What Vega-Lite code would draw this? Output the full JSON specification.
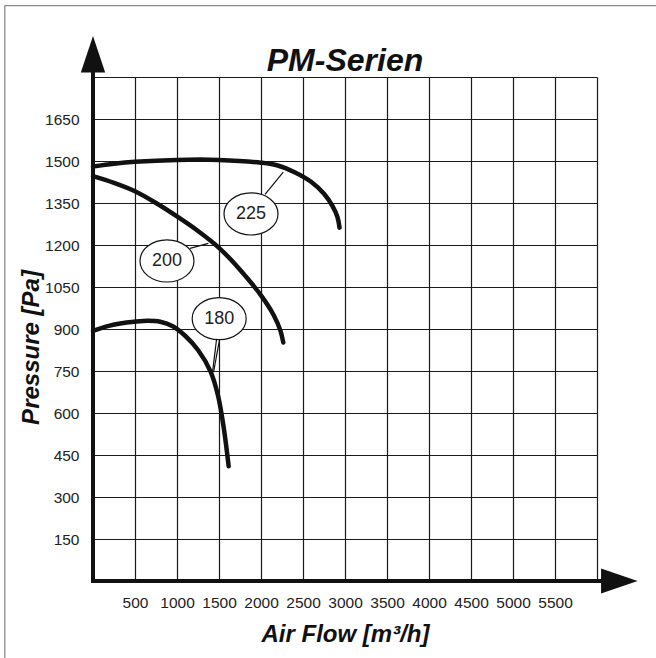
{
  "$schema": "https://vega.github.io/schema/vega-lite/v6.json",
  "width": 504,
  "height": 504,
  "autosize": {"type": "none"},
  "padding": {"left": 93, "top": 77, "right": 59, "bottom": 77},
  "background": "white",
  "config": {"view": {"stroke": null}, "font": "Liberation Sans"},
  "datasets": {
    "curves": [
      {"fan": "225", "x": 0, "y": 1480},
      {"fan": "225", "x": 250, "y": 1490},
      {"fan": "225", "x": 500, "y": 1497},
      {"fan": "225", "x": 1000, "y": 1504},
      {"fan": "225", "x": 1500, "y": 1504},
      {"fan": "225", "x": 2000, "y": 1494},
      {"fan": "225", "x": 2200, "y": 1484},
      {"fan": "225", "x": 2400, "y": 1460},
      {"fan": "225", "x": 2600, "y": 1425},
      {"fan": "225", "x": 2750, "y": 1383},
      {"fan": "225", "x": 2850, "y": 1340},
      {"fan": "225", "x": 2910, "y": 1300},
      {"fan": "225", "x": 2935, "y": 1262},
      {"fan": "200", "x": 0, "y": 1446},
      {"fan": "200", "x": 250, "y": 1422},
      {"fan": "200", "x": 500, "y": 1392},
      {"fan": "200", "x": 750, "y": 1350},
      {"fan": "200", "x": 1000, "y": 1302},
      {"fan": "200", "x": 1250, "y": 1250},
      {"fan": "200", "x": 1500, "y": 1190},
      {"fan": "200", "x": 1750, "y": 1112},
      {"fan": "200", "x": 2000, "y": 1020},
      {"fan": "200", "x": 2150, "y": 950},
      {"fan": "200", "x": 2230, "y": 895},
      {"fan": "200", "x": 2265, "y": 852},
      {"fan": "180", "x": 0, "y": 893},
      {"fan": "180", "x": 200, "y": 912},
      {"fan": "180", "x": 400, "y": 923},
      {"fan": "180", "x": 600, "y": 929},
      {"fan": "180", "x": 800, "y": 926},
      {"fan": "180", "x": 950, "y": 910},
      {"fan": "180", "x": 1100, "y": 875},
      {"fan": "180", "x": 1250, "y": 825},
      {"fan": "180", "x": 1400, "y": 748},
      {"fan": "180", "x": 1490, "y": 660},
      {"fan": "180", "x": 1560, "y": 540},
      {"fan": "180", "x": 1615, "y": 410}
    ],
    "labels": [
      {"fan": "225", "x": 1881, "y": 1311},
      {"fan": "200", "x": 881, "y": 1143},
      {"fan": "180", "x": 1502, "y": 937}
    ],
    "leaders": [
      {"fan": "225", "x": 2048, "y": 1381, "x2": 2265, "y2": 1460},
      {"fan": "200", "x": 1155, "y": 1188, "x2": 1373, "y2": 1206},
      {"fan": "180", "x": 1470, "y": 861, "x2": 1423, "y2": 746},
      {"fan": "180", "x": 1506, "y": 861, "x2": 1435, "y2": 746}
    ],
    "one": [{"k": 1}]
  },
  "layer": [
    {
      "data": {"name": "curves"},
      "mark": {"type": "line", "interpolate": "catmull-rom", "strokeWidth": 4.5, "color": "#111111", "strokeCap": "round", "strokeJoin": "round"},
      "encoding": {
        "x": {
          "field": "x", "type": "quantitative",
          "scale": {"domain": [0, 6000], "nice": false, "zero": false},
          "axis": {
            "values": [0, 500, 1000, 1500, 2000, 2500, 3000, 3500, 4000, 4500, 5000, 5500, 6000],
            "format": "d",
            "labelExpr": "datum.value == 0 || datum.value == 6000 ? '' : datum.label",
            "domain": false, "ticks": false, "tickSize": 0,
            "grid": true, "gridColor": "#1a1a1a", "gridWidth": 1.2, "gridOpacity": 1,
            "labelFont": "Liberation Sans", "labelFontSize": 15.5, "labelColor": "#222222", "labelPadding": 14,
            "title": "Air Flow [m³/h]",
            "titleFont": "Liberation Sans", "titleFontSize": 24, "titleFontWeight": "bold", "titleFontStyle": "italic",
            "titleColor": "#111111", "titleBaseline": "alphabetic", "titleY": 60.5
          }
        },
        "y": {
          "field": "y", "type": "quantitative",
          "scale": {"domain": [0, 1800], "nice": false, "zero": false},
          "axis": {
            "values": [0, 150, 300, 450, 600, 750, 900, 1050, 1200, 1350, 1500, 1650, 1800],
            "format": "d",
            "labelExpr": "datum.value == 0 || datum.value == 1800 ? '' : datum.label",
            "domain": false, "ticks": false, "tickSize": 0,
            "grid": true, "gridColor": "#1a1a1a", "gridWidth": 1.2, "gridOpacity": 1,
            "labelFont": "Liberation Sans", "labelFontSize": 15.5, "labelColor": "#222222", "labelPadding": 14,
            "title": "Pressure [Pa]",
            "titleFont": "Liberation Sans", "titleFontSize": 24, "titleFontWeight": "bold", "titleFontStyle": "italic",
            "titleColor": "#111111", "titleAngle": 270, "titleAlign": "center", "titleBaseline": "alphabetic",
            "titleX": -55, "titleY": 270
          }
        },
        "detail": {"field": "fan", "type": "nominal"}
      }
    },
    {
      "data": {"name": "leaders"},
      "mark": {"type": "rule", "color": "#111111", "strokeWidth": 1.2},
      "encoding": {
        "x": {"field": "x", "type": "quantitative", "scale": {"domain": [0, 6000], "nice": false, "zero": false}},
        "x2": {"field": "x2"},
        "y": {"field": "y", "type": "quantitative", "scale": {"domain": [0, 1800], "nice": false, "zero": false}},
        "y2": {"field": "y2"}
      }
    },
    {
      "data": {"name": "labels"},
      "mark": {"type": "point", "shape": "M-1,0A1,0.78,0,1,1,1,0A1,0.78,0,1,1,-1,0Z", "size": 2916, "filled": true, "fill": "white", "stroke": "#111111", "strokeWidth": 1.2, "opacity": 1},
      "encoding": {
        "x": {"field": "x", "type": "quantitative", "scale": {"domain": [0, 6000], "nice": false, "zero": false}},
        "y": {"field": "y", "type": "quantitative", "scale": {"domain": [0, 1800], "nice": false, "zero": false}}
      }
    },
    {
      "data": {"name": "labels"},
      "mark": {"type": "text", "font": "Liberation Sans", "fontSize": 18, "color": "#222222", "align": "center", "baseline": "middle"},
      "encoding": {
        "x": {"field": "x", "type": "quantitative", "scale": {"domain": [0, 6000], "nice": false, "zero": false}},
        "y": {"field": "y", "type": "quantitative", "scale": {"domain": [0, 1800], "nice": false, "zero": false}},
        "text": {"field": "fan"}
      }
    },
    {
      "data": {"name": "one"},
      "mark": {"type": "rule", "color": "#111111", "strokeWidth": 4, "strokeCap": "square"},
      "encoding": {
        "x": {"datum": 0, "type": "quantitative", "scale": {"domain": [0, 6000], "nice": false, "zero": false}},
        "y": {"datum": 0, "type": "quantitative", "scale": {"domain": [0, 1800], "nice": false, "zero": false}},
        "y2": {"datum": 1816}
      }
    },
    {
      "data": {"name": "one"},
      "mark": {"type": "rule", "color": "#111111", "strokeWidth": 4, "strokeCap": "square"},
      "encoding": {
        "x": {"datum": 0, "type": "quantitative", "scale": {"domain": [0, 6000], "nice": false, "zero": false}},
        "x2": {"datum": 6048},
        "y": {"datum": 0, "type": "quantitative", "scale": {"domain": [0, 1800], "nice": false, "zero": false}}
      }
    },
    {
      "data": {"name": "one"},
      "mark": {"type": "point", "shape": "M-0.61,0L0.61,0L0,-1.83Z", "size": 1600, "filled": true, "fill": "#111111", "opacity": 1, "strokeWidth": 0},
      "encoding": {
        "x": {"datum": 0, "type": "quantitative", "scale": {"domain": [0, 6000], "nice": false, "zero": false}},
        "y": {"datum": 1816, "type": "quantitative", "scale": {"domain": [0, 1800], "nice": false, "zero": false}}
      }
    },
    {
      "data": {"name": "one"},
      "mark": {"type": "point", "shape": "M0,-0.625L1.83,0L0,0.625Z", "size": 1600, "filled": true, "fill": "#111111", "opacity": 1, "strokeWidth": 0},
      "encoding": {
        "x": {"datum": 6048, "type": "quantitative", "scale": {"domain": [0, 6000], "nice": false, "zero": false}},
        "y": {"datum": 0, "type": "quantitative", "scale": {"domain": [0, 1800], "nice": false, "zero": false}}
      }
    },
    {
      "data": {"name": "one"},
      "mark": {"type": "text", "text": "PM-Serien", "font": "Liberation Sans", "fontSize": 32, "fontWeight": "bold", "fontStyle": "italic", "color": "#111111", "align": "center", "baseline": "alphabetic"},
      "encoding": {
        "x": {"datum": 3000, "type": "quantitative", "scale": {"domain": [0, 6000], "nice": false, "zero": false}},
        "y": {"datum": 1821, "type": "quantitative", "scale": {"domain": [0, 1800], "nice": false, "zero": false}}
      }
    },
    {
      "data": {"name": "one"},
      "mark": {"type": "rule", "color": "#8a8a8a", "strokeWidth": 1.3},
      "encoding": {
        "x": {"datum": -1050, "type": "quantitative", "scale": {"domain": [0, 6000], "nice": false, "zero": false}},
        "y": {"datum": 2055, "type": "quantitative", "scale": {"domain": [0, 1800], "nice": false, "zero": false}},
        "y2": {"datum": -1000}
      }
    },
    {
      "data": {"name": "one"},
      "mark": {"type": "rule", "color": "#8a8a8a", "strokeWidth": 1.3},
      "encoding": {
        "x": {"datum": -1050, "type": "quantitative", "scale": {"domain": [0, 6000], "nice": false, "zero": false}},
        "x2": {"datum": 9000},
        "y": {"datum": 2055, "type": "quantitative", "scale": {"domain": [0, 1800], "nice": false, "zero": false}}
      }
    }
  ]
}
